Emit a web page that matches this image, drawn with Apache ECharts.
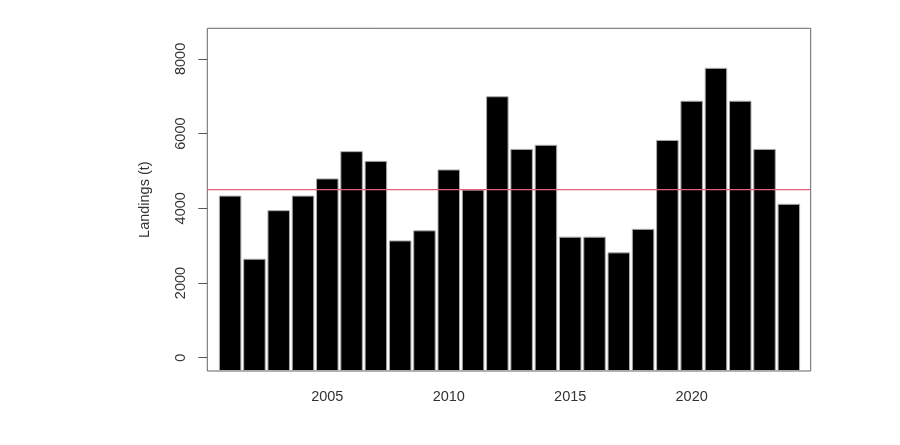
<!DOCTYPE html>
<html>
<head>
<meta charset="utf-8">
<script src="https://cdn.jsdelivr.net/npm/echarts@6/dist/echarts.min.js"></script>
<style>
html,body{margin:0;padding:0;background:#fff;}
#chart{width:900px;height:445px;}
</style>
</head>
<body>
<div id="chart"></div>
<script>
var years = [2001,2002,2003,2004,2005,2006,2007,2008,2009,2010,2011,2012,2013,2014,2015,2016,2017,2018,2019,2020,2021,2022,2023,2024];
var landings = [4340,2650,3950,4340,4800,5530,5270,3140,3410,5040,4500,7000,5590,5700,3240,3240,2820,3450,5830,6880,7760,6880,5590,4120];
var referenceLevel = 4500;
var yTicks = [0,2000,4000,6000,8000];
var xTicks = [2005,2010,2015,2020];

var chart = echarts.init(document.getElementById('chart'), null, {renderer:'canvas'});
var font = 'Liberation Sans, Arial, sans-serif';
var yMin = -356;
chart.setOption({
  animation:false,
  backgroundColor:'#fff',
  grid:{left:207.3, top:28.3, right:89.3, bottom:74, show:true, borderColor:'#666', borderWidth:1, backgroundColor:'transparent'},
  xAxis:{
    type:'value', min:2000.06, max:2024.9,
    axisLine:{show:false},
    splitLine:{show:false},
    axisTick:{show:true, customValues:xTicks, length:9, inside:false, lineStyle:{color:'#555', width:1}},
    axisLabel:{customValues:xTicks, margin:18, fontSize:14.5, color:'#333', fontFamily:font, formatter:function(v){return String(v);}}
  },
  yAxis:{
    type:'value', min:yMin, max:8819, startValue:yMin,
    name:'Landings (t)', nameLocation:'middle', nameRotate:90, nameGap:55,
    nameTextStyle:{fontSize:14.5, color:'#333', fontFamily:font},
    axisLine:{show:false},
    splitLine:{show:false},
    axisTick:{show:true, customValues:yTicks, length:9, inside:false, lineStyle:{color:'#555', width:1}},
    axisLabel:{customValues:yTicks, rotate:90, margin:19, fontSize:14.5, color:'#333', fontFamily:font, formatter:function(v){return String(v);}}
  },
  series:[{
    type:'bar',
    data: years.map(function(y,i){return [y, landings[i]];}),
    barWidth:22.5,
    itemStyle:{color:'#000', borderColor:'#aaa', borderWidth:1},
    z:2
  },{
    type:'line',
    data:[[2000.06, referenceLevel],[2024.9, referenceLevel]],
    symbol:'none',
    lineStyle:{color:'#E0607A', width:1.3, type:'solid'},
    z:5
  }]
});
</script>
</body>
</html>
